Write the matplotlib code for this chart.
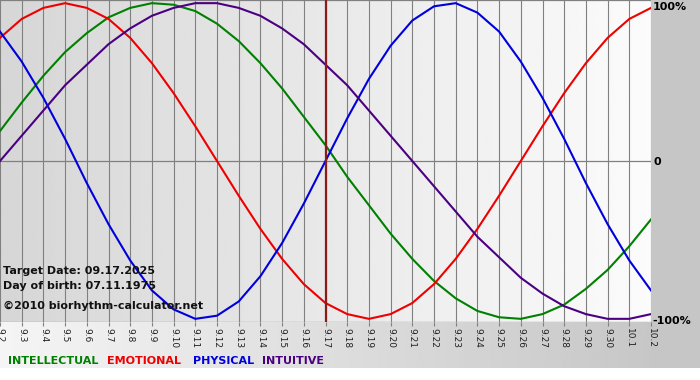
import numpy as np
import matplotlib
matplotlib.use("Agg")
import matplotlib.pyplot as plt

# days shown on the x axis (9.2 .. 10.2)
days = ["9.2", "9.3", "9.4", "9.5", "9.6", "9.7", "9.8", "9.9", "9.10", "9.11",
        "9.12", "9.13", "9.14", "9.15", "9.16", "9.17", "9.18", "9.19", "9.20",
        "9.21", "9.22", "9.23", "9.24", "9.25", "9.26", "9.27", "9.28", "9.29",
        "9.30", "10.1", "10.2"]
target_day = "9.17"

# values, one per day (-1 .. 1)
physical = [0.82, 0.63, 0.40, 0.14, -0.14, -0.40, -0.63, -0.82, -0.94, -1.00,
            -0.98, -0.89, -0.73, -0.52, -0.27, 0.00, 0.27, 0.52, 0.73, 0.89,
            0.98, 1.00, 0.94, 0.82, 0.63, 0.40, 0.14, -0.14, -0.40, -0.63, -0.82]
emotional = [0.78, 0.90, 0.97, 1.00, 0.97, 0.90, 0.78, 0.62, 0.43, 0.22,
             0.00, -0.22, -0.43, -0.62, -0.78, -0.90, -0.97, -1.00, -0.97, -0.90,
             -0.78, -0.62, -0.43, -0.22, 0.00, 0.22, 0.43, 0.62, 0.78, 0.90, 0.97]
intellectual = [0.19, 0.37, 0.54, 0.69, 0.81, 0.91, 0.97, 1.00, 0.99, 0.95,
                0.87, 0.76, 0.62, 0.46, 0.28, 0.10, -0.10, -0.28, -0.46, -0.62,
                -0.76, -0.87, -0.95, -0.99, -1.00, -0.97, -0.91, -0.81, -0.69, -0.54, -0.37]
intuitive = [0.00, 0.16, 0.32, 0.48, 0.61, 0.74, 0.84, 0.92, 0.97, 1.00,
             1.00, 0.97, 0.92, 0.84, 0.74, 0.61, 0.48, 0.32, 0.16, 0.00,
             -0.16, -0.32, -0.48, -0.61, -0.74, -0.84, -0.92, -0.97, -1.00, -1.00, -0.97]

series = [("INTELLECTUAL", intellectual, "#008000"),
          ("EMOTIONAL", emotional, "#ee0000"),
          ("PHYSICAL", physical, "#0000dd"),
          ("INTUITIVE", intuitive, "#4b0082")]

W, H = 700, 380
fig = plt.figure(figsize=(W / 100, H / 100), dpi=100, facecolor="white")

# background layer in pixel coordinates
bg = fig.add_axes([0, 0, 1, 1], zorder=-1)
bg.set_xlim(0, W)
bg.set_ylim(H, 0)
bg.axis("off")
bg.add_patch(plt.Rectangle((651, 0), W - 651, 368, color="#c6c6c6", lw=0))
band = np.linspace(0.96, 0.78, 256)[None, :]
bg.imshow(band, cmap="gray", vmin=0, vmax=1, extent=(0, 651, 368, 321), aspect="auto")

# main chart
ax = fig.add_axes([0, 1 - 322 / H, 651 / W, 322 / H])
x = np.arange(len(days))
ax.set_xlim(0, len(days) - 1)
ax.set_ylim(-1.02, 1.02)
grad = np.linspace(0.84, 0.985, 256)[None, :]
ax.imshow(grad, cmap="gray", vmin=0, vmax=1, extent=(0, len(days) - 1, -1.02, 1.02),
          aspect="auto", zorder=0)

for xi in x:
    ax.axvline(xi, color="#808080", lw=0.8, zorder=1)
for yv in (-1.02, 0, 1.02):
    ax.axhline(yv, color="#808080", lw=0.9, zorder=1)

ax.axvline(days.index(target_day), color="#8b1a1a", lw=1.6, zorder=3)

for name, vals, col in series:
    ax.plot(x, vals, color=col, lw=1.5, zorder=2, solid_joinstyle="round")

for s in ax.spines.values():
    s.set_visible(False)
ax.set_yticks([])
ax.set_xticks(x)
ax.set_xticklabels(days, rotation=270, fontsize=6.5, color="#202020")
ax.tick_params(axis="x", length=3, color="#808080", pad=1)

# right-hand percent labels
fig.text(653 / W, 1 - 7 / H, "100%", fontsize=8, fontweight="bold", va="center", ha="left")
fig.text(653 / W, 1 - 162 / H, "0", fontsize=8, fontweight="bold", va="center", ha="left")
fig.text(652 / W, 1 - 321 / H, "-100%", fontsize=8, fontweight="bold", va="center", ha="left")

# info text
info = ["Target Date: 09.17.2025", "Day of birth: 07.11.1975", "\u00a92010 biorhythm-calculator.net"]
for txt, yp in zip(info, (271, 286, 306)):
    fig.text(3 / W, 1 - yp / H, txt, fontsize=8, fontweight="bold", color="#111111",
             va="center", ha="left", zorder=5)

# legend
for (name, vals, col), xp in zip(series, (8, 107, 193, 262)):
    fig.text(xp / W, 1 - 361 / H, name, fontsize=8, fontweight="bold", color=col,
             va="center", ha="left")

fig.savefig("out.png", dpi=100, facecolor="white")
